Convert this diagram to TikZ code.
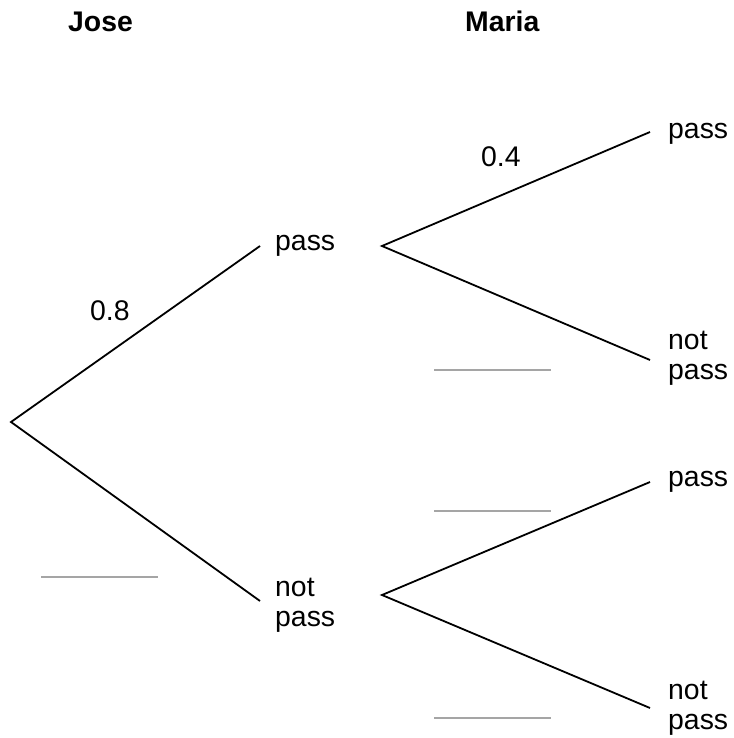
\documentclass[tikz,border=0pt]{standalone}
\usepackage{fontspec}
\setmainfont{Liberation Sans}
\begin{document}
\begin{tikzpicture}[x=1bp,y=-1bp,
  branch/.style={line width=1.8bp,black},
  blank/.style={line width=2bp,color={rgb,255:red,165;green,165;blue,165}},
  lbl/.style={inner sep=0pt,anchor=base west,font=\fontsize{28.5}{30}\selectfont,align=left},
  head/.style={inner sep=0pt,anchor=base west,font=\fontsize{28.5}{30}\selectfont\bfseries}]
\useasboundingbox (0,0) rectangle (734,738);
% headings
\node[head] (jose) at (68,32) {Jose};
\node[head] (maria) at (465,32) {Maria};
% branch points
\coordinate (root) at (11,422);
\coordinate (a1) at (260,246);
\coordinate (a2) at (260,601);
\coordinate (b0) at (382,246);
\coordinate (b1) at (650,132);
\coordinate (b2) at (650,360);
\coordinate (c0) at (382,595);
\coordinate (c1) at (650,482);
\coordinate (c2) at (650,708);
% labels
\node[lbl] (jp) at (275,250) {pass};
\node[lbl] (jn) at (275,626) {not\\pass};
\node[lbl] (mpp) at (668,138) {pass};
\node[lbl] (mpn) at (668,379) {not\\pass};
\node[lbl] (mnp) at (668,486) {pass};
\node[lbl] (mnn) at (668,729) {not\\pass};
\node[lbl] (p8) at (90,320) {0.8};
\node[lbl] (p4) at (481,166) {0.4};
% branches
\draw[branch] (a1) -- (root) -- (a2);
\draw[branch] (b1) -- (b0) -- (b2);
\draw[branch] (c1) -- (c0) -- (c2);
% blanks
\coordinate (g1a) at (41,577); \coordinate (g1b) at (158,577);
\coordinate (g2a) at (434,370); \coordinate (g2b) at (551,370);
\coordinate (g3a) at (434,511); \coordinate (g3b) at (551,511);
\coordinate (g4a) at (434,718); \coordinate (g4b) at (551,718);
\draw[blank] (g1a) -- (g1b);
\draw[blank] (g2a) -- (g2b);
\draw[blank] (g3a) -- (g3b);
\draw[blank] (g4a) -- (g4b);
\end{tikzpicture}
\end{document}
